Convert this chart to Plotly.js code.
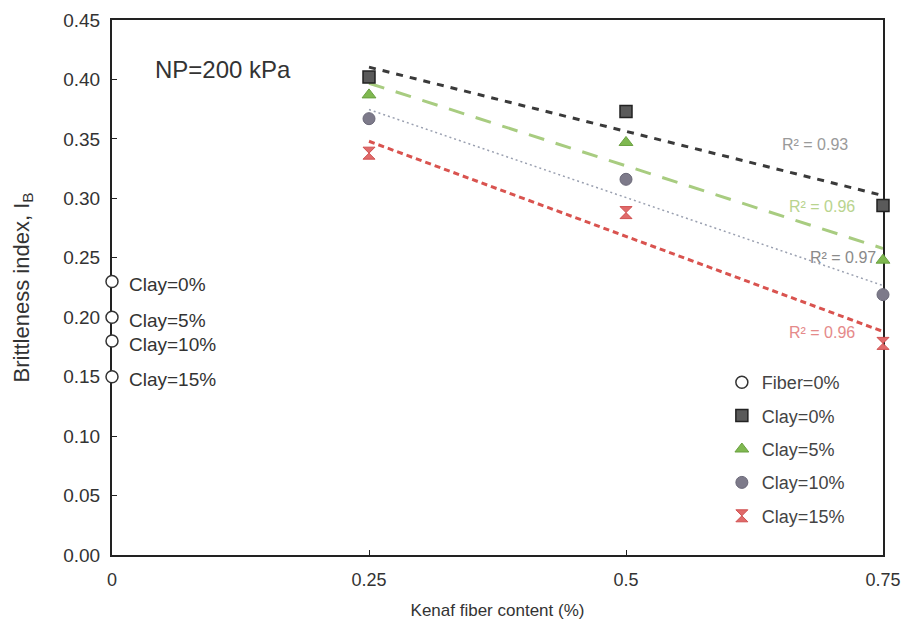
<!DOCTYPE html>
<html>
<head>
<meta charset="utf-8">
<script src="https://cdn.plot.ly/plotly-3.0.1.min.js"></script>
<style>html,body{margin:0;padding:0;background:#fff;}#chart{width:916px;height:638px;}</style>
</head>
<body>
<div id="chart"></div>
<script>
// ---- data ----
const fiberContent = [0.25, 0.5, 0.75];
const clay0 = [0.402, 0.373, 0.294];
const clay5 = [0.387, 0.347, 0.248];
const clay10 = [0.367, 0.316, 0.219];
const clay15 = [0.338, 0.288, 0.178];
const fiber0Values = [0.23, 0.20, 0.18, 0.15];
const fiber0Labels = ["Clay=0%", "Clay=5%", "Clay=10%", "Clay=15%"];
const seriesNames = ["Clay=0%", "Clay=5%", "Clay=10%", "Clay=15%"];
const r2Labels = ["R\u00b2 = 0.93", "R\u00b2 = 0.96", "R\u00b2 = 0.97", "R\u00b2 = 0.96"];
const xTickVals = [0, 0.25, 0.5, 0.75];
const xTickText = ["0", "0.25", "0.5", "0.75"];

// ---- least squares trend ----
function fit(xs, ys) {
  const n = xs.length;
  const mx = xs.reduce((a, b) => a + b, 0) / n;
  const my = ys.reduce((a, b) => a + b, 0) / n;
  let sxy = 0, sxx = 0;
  for (let i = 0; i < n; i++) { sxy += (xs[i] - mx) * (ys[i] - my); sxx += (xs[i] - mx) ** 2; }
  const b = sxy / sxx, a = my - b * mx;
  return xs.map(x => a + b * x);
}

const seriesData = [clay0, clay5, clay10, clay15];
const markerStyles = [
  {symbol: "square", size: 12, color: "#5a5a5a", line: {color: "#222", width: 1.5}},
  {symbol: "triangle-up", size: 12, color: "#7fb850", line: {color: "#6aa040", width: 1}},
  {symbol: "circle", size: 12, color: "#7d7a8a", line: {color: "#6a6878", width: 1}},
  {symbol: "hourglass", size: 12, color: "#e06a6a", line: {color: "#d05050", width: 1}}
];
const lineStyles = [
  {color: "#3a3a3a", width: 3, dash: "7px,7px"},
  {color: "#a8cc80", width: 3, dash: "16px,12px"},
  {color: "#9aa0b0", width: 1.5, dash: "2px,3px"},
  {color: "#d9534f", width: 3, dash: "6px,4px"}
];
const r2Colors = ["#9a9a9a", "#b9d48e", "#8a8a8a", "#e58a8a"];
const r2Pos = [[0.684, 0.345], [0.691, 0.293], [0.711, 0.250], [0.691, 0.187]];

const traces = [];
traces.push({
  x: fiber0Values.map(() => 0), y: fiber0Values, type: "scatter", mode: "markers",
  name: "Fiber=0%", cliponaxis: false, legendgroup: "f",
  marker: {symbol: "circle", size: 12, color: "#ffffff", line: {color: "#333", width: 1.5}}
});
seriesData.forEach((ys, i) => {
  traces.push({
    x: fiberContent, y: fit(fiberContent, ys), type: "scatter", mode: "lines",
    showlegend: false, hoverinfo: "skip", line: lineStyles[i]
  });
});
seriesData.forEach((ys, i) => {
  traces.push({
    x: fiberContent, y: ys, type: "scatter", mode: "markers", name: seriesNames[i],
    cliponaxis: false, legendgroup: "g" + i, marker: markerStyles[i]
  });
});

const annotations = [];
fiber0Values.forEach((v, i) => {
  annotations.push({x: 0.0145, y: v, xref: "x", yref: "y", text: fiber0Labels[i], showarrow: false,
    xanchor: "left", yanchor: "middle", yshift: -3, font: {size: 19, color: "#333", family: "Liberation Sans, Arial, sans-serif"}});
});
r2Labels.forEach((t, i) => {
  annotations.push({x: r2Pos[i][0], y: r2Pos[i][1], xref: "x", yref: "y", text: t, showarrow: false,
    xanchor: "center", yanchor: "middle", font: {size: 16, color: r2Colors[i], family: "Liberation Sans, Arial, sans-serif"}});
});
annotations.push({x: 0.108, y: 0.408, xref: "x", yref: "y", text: "NP=200 kPa", showarrow: false,
  xanchor: "center", yanchor: "middle", font: {size: 24, color: "#333", family: "Liberation Sans, Arial, sans-serif"}});

const layout = {
  width: 916, height: 638,
  margin: {l: 112, r: 33, t: 20, b: 83},
  paper_bgcolor: "#fff", plot_bgcolor: "#fff",
  font: {family: "Liberation Sans, Arial, sans-serif", color: "#333"},
  showlegend: true,
  legend: {x: 0.791, y: 0.357, xanchor: "left", yanchor: "top", bgcolor: "rgba(0,0,0,0)",
    font: {size: 18, color: "#444"}, tracegroupgap: 7},
  xaxis: {range: [0, 0.75], tickvals: xTickVals, ticktext: xTickText, showgrid: false, zeroline: false,
    showline: true, linecolor: "#222", linewidth: 2, mirror: true, ticks: "inside", ticklen: 5, tickcolor: "#222",
    layer: "below traces", ticklabelstandoff: 7,
    tickfont: {size: 18, family: "Liberation Sans Narrow, Arial Narrow, Liberation Sans, sans-serif", color: "#333"},
    title: {text: "Kenaf fiber content (%)", standoff: 16, font: {size: 17, family: "Liberation Sans Narrow, Arial Narrow, Liberation Sans, sans-serif", color: "#333"}}},
  yaxis: {range: [0, 0.45], dtick: 0.05, tickformat: ".2f", showgrid: false, zeroline: false,
    showline: true, linecolor: "#222", linewidth: 2, mirror: true, ticks: "inside", ticklen: 5, tickcolor: "#222",
    layer: "below traces",
    tickfont: {size: 19, color: "#333"}, ticklabelstandoff: 6,
    title: {text: "Brittleness index, I<sub>B</sub>", standoff: 28, font: {size: 22, color: "#333"}}},
  annotations: annotations
};

Plotly.newPlot("chart", traces, layout, {displayModeBar: false, staticPlot: true});
</script>
</body>
</html>
